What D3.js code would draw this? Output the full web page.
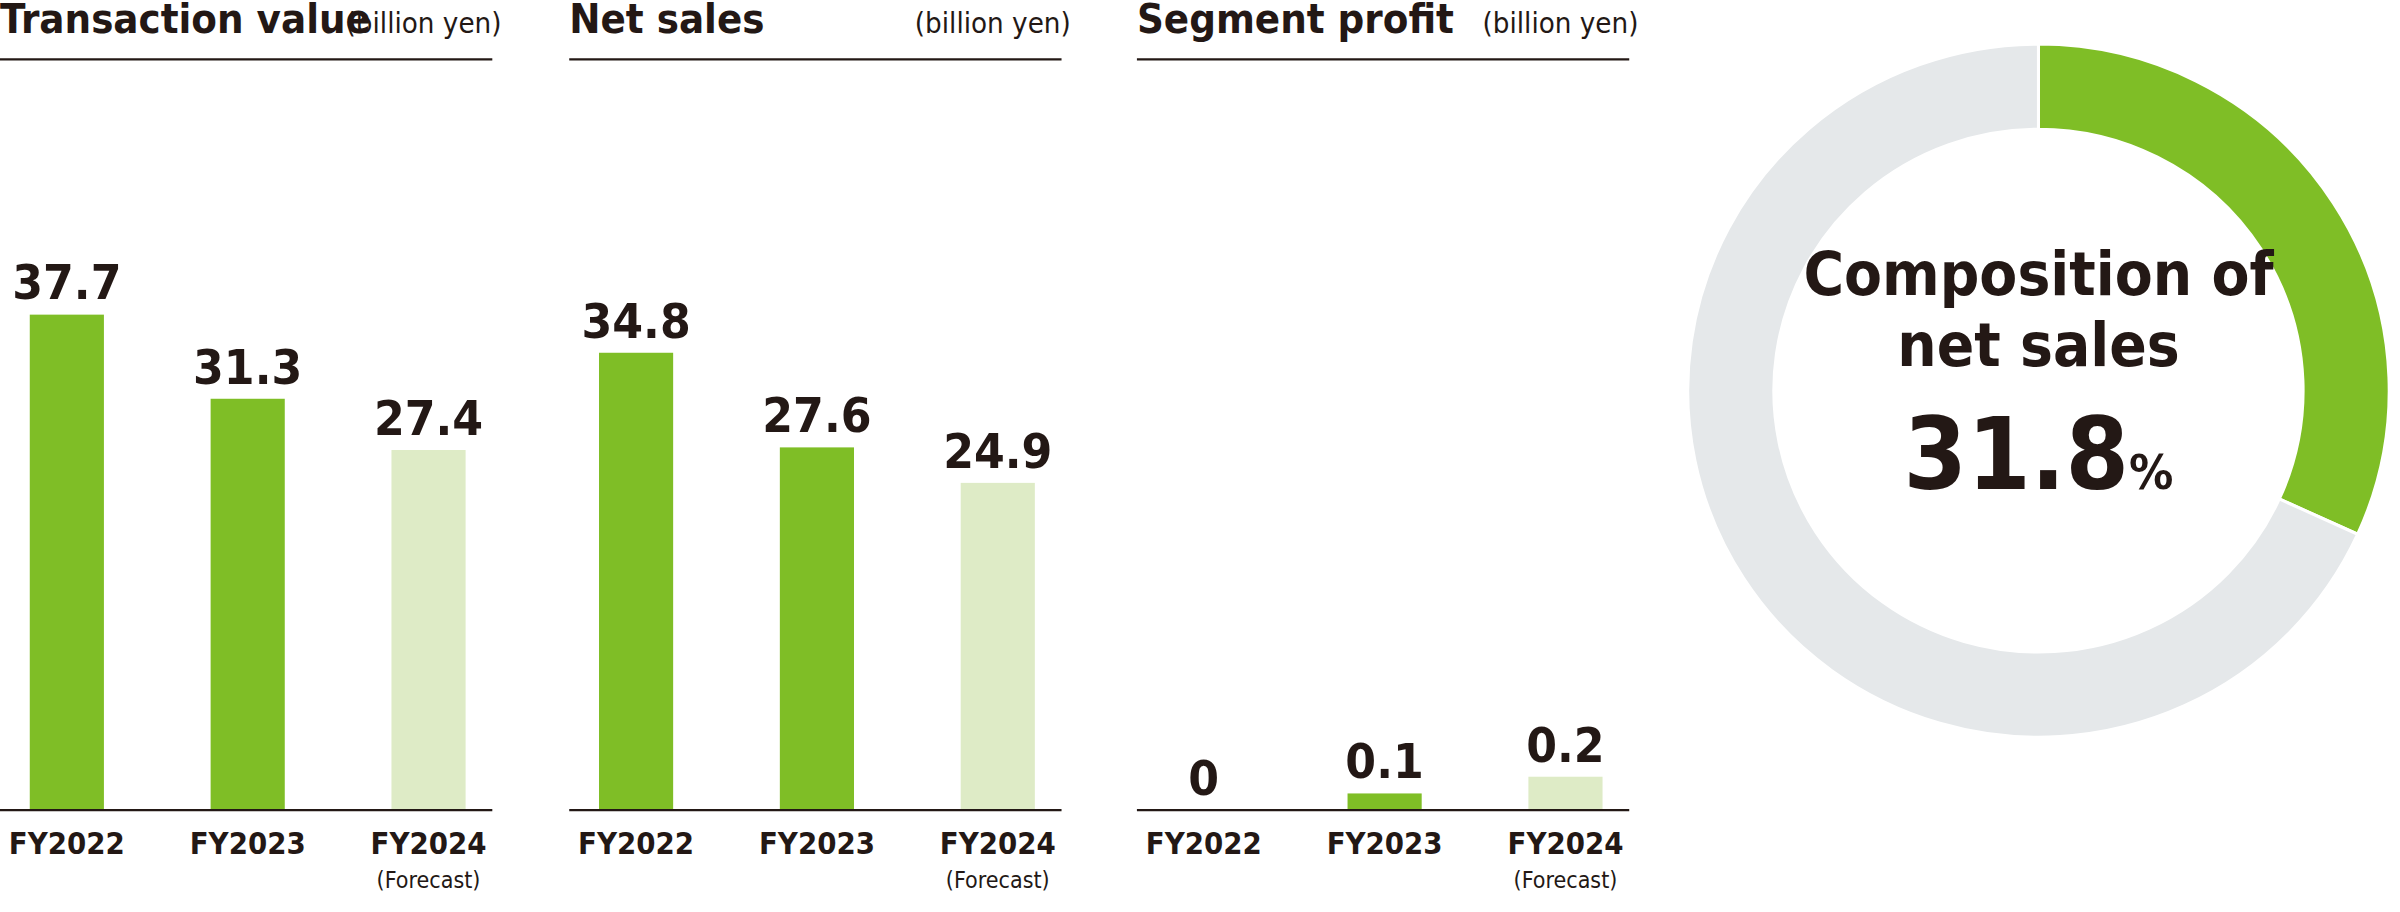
<!DOCTYPE html>
<html><head><meta charset="utf-8">
<script src="https://cdn.jsdelivr.net/npm/d3@7"></script>
<style>html,body{margin:0;padding:0;background:#fff}svg{display:block}</style>
</head><body>
<script>
const categories = ["FY2022","FY2023","FY2024"];
const subLabels = ["","","(Forecast)"];
const transactionValue = [37.7,31.3,27.4];
const netSales = [34.8,27.6,24.9];
const segmentProfit = [0,0.1,0.2];
const valueLabels = [["37.7","31.3","27.4"],["34.8","27.6","24.9"],["0","0.1","0.2"]];
const panelTitles = ["Transaction value","Net sales","Segment profit"];
const unitLabel = "(billion yen)";
const compositionShare = 31.8;

(function(){
const W=1560,H=600;
const svg=d3.select("body").append("svg").attr("width",2400).attr("height",912)
  .attr("viewBox",`0 0 ${W} ${H}`).attr("preserveAspectRatio","none");
const font='"Liberation Sans Narrow","DejaVu Sans Condensed","Roboto",sans-serif';
const ink="#231815", green="#7fbe26", light="#deebc6", grey="#e5e8ea";
const colors=[green,green,light];
const panels=[
  {x0:0,data:transactionValue,domain:[0,37.7/326*494]},
  {x0:370,data:netSales,domain:[0,37.7/326*494]},
  {x0:739,data:segmentProfit,domain:[0,0.2/22*494]}
];
const base=533, topY=39;
panels.forEach((p,i)=>{
  const g=svg.append("g").attr("transform",`translate(${p.x0},0)`);
  const x=d3.scaleBand().domain(categories).range([17,305]).paddingInner(0.59).paddingOuter(0.02);
  const y=d3.scaleLinear().domain(p.domain).range([base,topY]);
  g.append("text").attr("x",0).attr("y",22).attr("font-family",font).attr("font-weight","bold")
   .attr("font-size",27).attr("fill",ink).text(panelTitles[i]);
  g.append("text").attr("x",326).attr("y",22).attr("text-anchor","end").attr("font-family",font)
   .attr("font-size",19).attr("fill",ink).text(unitLabel);
  g.append("line").attr("x1",0).attr("x2",320).attr("y1",topY).attr("y2",topY).attr("stroke",ink).attr("stroke-width",1.5);
  g.selectAll("rect").data(p.data).join("rect")
   .attr("x",(d,j)=>x(categories[j])).attr("width",x.bandwidth())
   .attr("y",d=>y(d)).attr("height",d=>base-y(d)).attr("fill",(d,j)=>colors[j]);
  g.selectAll("text.v").data(p.data).join("text").attr("class","v")
   .attr("x",(d,j)=>x(categories[j])+x.bandwidth()/2).attr("y",d=>y(d)-10)
   .attr("text-anchor","middle").attr("font-family",font).attr("font-weight","bold")
   .attr("font-size",32).attr("fill",ink).text((d,j)=>valueLabels[i][j]);
  g.append("line").attr("x1",0).attr("x2",320).attr("y1",base).attr("y2",base).attr("stroke",ink).attr("stroke-width",1.5);
  const ax=d3.axisBottom(x).tickSize(0).tickPadding(0);
  const ag=g.append("g").attr("transform",`translate(0,${base})`).call(ax);
  ag.select(".domain").remove();
  ag.selectAll("text").attr("y",29).attr("dy",0).attr("font-family",font).attr("font-weight","bold")
   .attr("font-size",20).attr("fill",ink);
  ag.selectAll(".tick").append("text").attr("y",51).attr("text-anchor","middle").attr("font-family",font)
   .attr("font-size",15).attr("fill",ink).text((d,j)=>subLabels[j]);
});

const cx=1325, cy=257;
const pie=d3.pie().sort(null)([compositionShare,100-compositionShare]);
const arc=d3.arc().innerRadius(172).outerRadius(228);
const dg=svg.append("g").attr("transform",`translate(${cx},${cy})`);
dg.selectAll("path").data(pie).join("path").attr("d",arc)
  .attr("fill",(d,i)=>i===0?green:grey).attr("stroke","#fff").attr("stroke-width",2);
dg.append("text").attr("y",-63).attr("text-anchor","middle").attr("font-family",font).attr("font-weight","bold")
  .attr("font-size",40).attr("fill",ink).text("Composition of");
dg.append("text").attr("y",-16).attr("text-anchor","middle").attr("font-family",font).attr("font-weight","bold")
  .attr("font-size",40).attr("fill",ink).text("net sales");
const t=dg.append("text").attr("y",65).attr("text-anchor","middle").attr("font-family",font).attr("font-weight","bold").attr("fill",ink);
t.append("tspan").attr("font-size",66).text(String(compositionShare));
t.append("tspan").attr("font-size",32).text("%");
})();
</script>
</body></html>
